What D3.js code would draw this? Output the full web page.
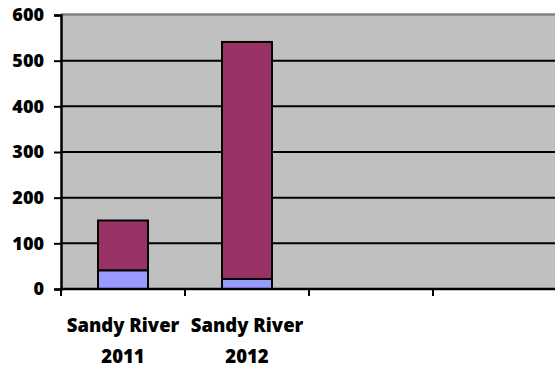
<!DOCTYPE html>
<html>
<head>
<meta charset="utf-8">
<script src="https://cdn.jsdelivr.net/npm/d3@7"></script>
<style>
  html, body { margin: 0; padding: 0; background: #fff; }
  svg { display: block; }
  text { font-family: "Open Sans", "Liberation Sans", sans-serif; font-weight: 800; fill: #000; }
</style>
</head>
<body>
<svg id="chart" width="555" height="367"></svg>
<script>
// Category labels (two lines each) and the number of category slots on the axis
const categoryLines = [["Sandy River", "2011"], ["Sandy River", "2012"]];
const slotCount = 4;

// Stacked series values per category
const seriesLower = [41, 22];
const seriesUpper = [109, 519];

// Y axis ticks
const yTicks = [0, 100, 200, 300, 400, 500, 600];

const colors = { lower: "#9999FF", upper: "#993366" };

const svg = d3.select("#chart");
const plot = { left: 61, right: 557, top: 15, bottom: 289 };

const x = d3.scaleBand()
  .domain(d3.range(slotCount))
  .range([plot.left, plot.right])
  .paddingInner(0.597)
  .paddingOuter(0.2985);

const y = d3.scaleLinear()
  .domain([0, 600])
  .range([plot.bottom, plot.top]);

// Plot background
svg.append("rect")
  .attr("x", plot.left).attr("y", plot.top)
  .attr("width", plot.right - plot.left).attr("height", plot.bottom - plot.top)
  .attr("fill", "#C0C0C0");

// Top border
svg.append("line")
  .attr("x1", plot.left).attr("x2", plot.right)
  .attr("y1", plot.top - 0.5).attr("y2", plot.top - 0.5)
  .attr("stroke", "#808080").attr("stroke-width", 2.5);

// Horizontal gridlines
svg.append("g").selectAll("line")
  .data(yTicks.filter(d => d > 0 && d < 600))
  .join("line")
  .attr("x1", plot.left).attr("x2", plot.right)
  .attr("y1", d => y(d)).attr("y2", d => y(d))
  .attr("stroke", "#000").attr("stroke-width", 2);

// Stacked bars
const stackData = categoryLines.map((c, i) => ({ i, lower: seriesLower[i], upper: seriesUpper[i] }));
const stacked = d3.stack().keys(["lower", "upper"])(stackData);

svg.append("g").selectAll("g")
  .data(stacked)
  .join("g")
  .attr("fill", d => colors[d.key])
  .selectAll("rect")
  .data(d => d)
  .join("rect")
  .attr("x", d => x(d.data.i))
  .attr("width", x.bandwidth())
  .attr("y", d => y(d[1]))
  .attr("height", d => y(d[0]) - y(d[1]))
  .attr("stroke", "#000")
  .attr("stroke-width", 2);

// Y axis
const yAxis = svg.append("g")
  .attr("transform", `translate(${plot.left},0)`)
  .call(d3.axisLeft(y).tickValues(yTicks).tickSize(7).tickPadding(10));
yAxis.attr("font-family", null).attr("font-size", null);
yAxis.select(".domain").attr("stroke", "#000").attr("stroke-width", 2.5);
yAxis.selectAll(".tick line").attr("stroke", "#000").attr("stroke-width", 2);
yAxis.selectAll(".tick text")
  .attr("font-size", 18)
  .attr("dy", "0.33em");

// X axis with ticks at slot boundaries
const xAxisG = svg.append("g");
xAxisG.append("line")
  .attr("x1", plot.left).attr("x2", plot.right)
  .attr("y1", plot.bottom).attr("y2", plot.bottom)
  .attr("stroke", "#000").attr("stroke-width", 2.5);
const boundaries = d3.range(slotCount).map(i => x(i) - x.step() * x.paddingInner() / 2);
xAxisG.selectAll(".xtick")
  .data(boundaries)
  .join("line")
  .attr("x1", d => d).attr("x2", d => d)
  .attr("y1", plot.bottom).attr("y2", plot.bottom + 7)
  .attr("stroke", "#000").attr("stroke-width", 2);

// Category labels
const labels = svg.append("g").selectAll("text")
  .data(categoryLines)
  .join("text")
  .attr("x", (d, i) => x(i) + x.bandwidth() / 2)
  .attr("y", 332)
  .attr("text-anchor", "middle")
  .attr("font-size", 18.5);
labels.selectAll("tspan")
  .data(d => d)
  .join("tspan")
  .attr("x", function () { return d3.select(this.parentNode).attr("x"); })
  .attr("dy", (d, j) => j === 0 ? 0 : 30.5)
  .text(d => d);
</script>
</body>
</html>
